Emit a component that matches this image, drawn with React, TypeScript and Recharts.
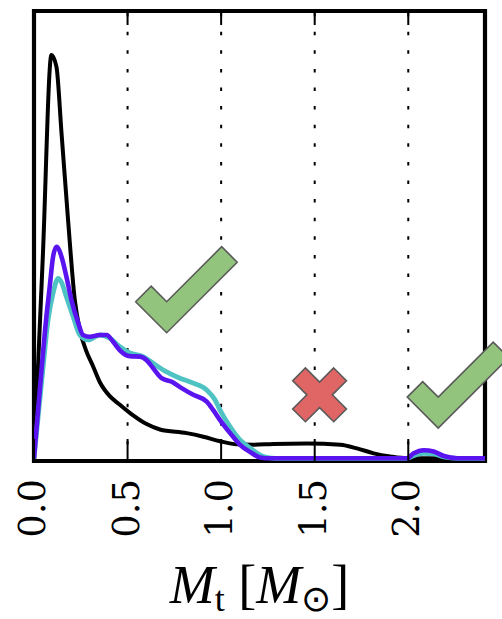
import React from "react";
import {
  LineChart,
  Line,
  XAxis,
  YAxis,
  CartesianGrid,
  ReferenceArea,
  ReferenceDot,
} from "recharts";

// values (x in M_sun, y as fraction of panel height)
const blackX = [0, 0.047, 0.093, 0.12, 0.147, 0.182, 0.218, 0.245, 0.277, 0.316, 0.352, 0.405, 0.459, 0.528, 0.602, 0.673, 0.816, 0.905, 0.994, 1.084, 1.172, 1.279, 1.458, 1.637, 1.726, 1.815, 1.904, 1.993, 2.41];
const blackY = [0, 0.447, 0.896, 0.87, 0.723, 0.53, 0.352, 0.285, 0.241, 0.204, 0.169, 0.138, 0.119, 0.096, 0.076, 0.064, 0.056, 0.048, 0.038, 0.031, 0.03, 0.032, 0.033, 0.03, 0.022, 0.011, 0.004, 0, 0];

const purpleX = [0, 0.04, 0.066, 0.084, 0.102, 0.12, 0.147, 0.173, 0.2, 0.236, 0.262, 0.298, 0.352, 0.388, 0.423, 0.459, 0.512, 0.566, 0.602, 0.637, 0.682, 0.736, 0.789, 0.851, 0.923, 0.958, 0.994, 1.048, 1.101, 1.155, 1.208, 1.261, 1.958, 1.993, 2.029, 2.082, 2.136, 2.19, 2.261, 2.41];
const purpleY = [0, 0.196, 0.314, 0.381, 0.448, 0.47, 0.448, 0.404, 0.352, 0.301, 0.274, 0.27, 0.274, 0.274, 0.259, 0.24, 0.227, 0.226, 0.218, 0.2, 0.178, 0.17, 0.156, 0.141, 0.126, 0.107, 0.085, 0.056, 0.03, 0.014, 0.002, 0, 0, 0, 0.011, 0.018, 0.015, 0.005, 0, 0];

const cyanX = [0, 0.047, 0.075, 0.102, 0.129, 0.148, 0.173, 0.209, 0.245, 0.289, 0.352, 0.405, 0.459, 0.512, 0.584, 0.637, 0.709, 0.78, 0.851, 0.923, 0.967, 0.994, 1.048, 1.101, 1.155, 1.226, 1.289, 1.993, 2.029, 2.082, 2.136, 2.19, 2.261, 2.41];
const cyanY = [0, 0.196, 0.307, 0.367, 0.4, 0.39, 0.359, 0.315, 0.274, 0.263, 0.274, 0.267, 0.248, 0.234, 0.226, 0.211, 0.192, 0.178, 0.167, 0.152, 0.13, 0.107, 0.07, 0.041, 0.023, 0.004, 0, 0, 0.006, 0.011, 0.01, 0.003, 0, 0];

const xTicks = [0, 0.5, 1.0, 1.5, 2.0];
const tickLabels = ["0.0", "0.5", "1.0", "1.5", "2.0"];

// annotation marks: [x, y, kind]
const marks: Array<[number, number, "check" | "cross"]> = [
  [0.709, 0.348, "check"],
  [1.526, 0.141, "cross"],
  [2.16, 0.136, "check"],
];

const X_MAX = 2.41;
const Y_MIN = -0.006;
const Y_MAX = 0.994;

const W = 502;
const H = 619;
const MARGIN = { top: 11, right: 17, bottom: 98, left: 34 };
const AXIS_H = 60;
const PLOT_H = H - MARGIN.top - MARGIN.bottom - AXIS_H;

const toPoints = (xs: number[], ys: number[]) => xs.map((x, i) => ({ x, y: ys[i] }));

const blackData = toPoints(blackX, blackY);
const purpleData = toPoints(purpleX, purpleY);
const cyanData = toPoints(cyanX, cyanY);

const CheckMark = ({ cx, cy }: any) => {
  const pts = [
    [-31, 0],
    [-15.5, -15.5],
    [0, 0],
    [55, -55],
    [70.5, -39.5],
    [0, 31],
  ];
  return (
    <polygon
      points={pts.map(([px, py]) => `${cx + px},${cy + py}`).join(" ")}
      fill="#93c47d"
      stroke="#5a5a5a"
      strokeWidth={1.6}
      strokeLinejoin="miter"
    />
  );
};

const CrossMark = ({ cx, cy }: any) => {
  const a = 9;
  const L = 29;
  const plus = [
    [-a, -L], [a, -L], [a, -a], [L, -a], [L, a], [a, a],
    [a, L], [-a, L], [-a, a], [-L, a], [-L, -a], [-a, -a],
  ];
  const s = Math.SQRT1_2;
  const pts = plus.map(([px, py]) => [(px - py) * s, (px + py) * s]);
  return (
    <polygon
      points={pts.map(([px, py]) => `${cx + px},${cy + py}`).join(" ")}
      fill="#e06666"
      stroke="#5a5a5a"
      strokeWidth={1.6}
    />
  );
};

const BottomTick = (props: any) => {
  const { x, y, index } = props;
  return (
    <g>
      <line x1={x} y1={y} x2={x} y2={y - 22} stroke="#000" strokeWidth={2} />
      <line x1={x} y1={y - PLOT_H} x2={x} y2={y - PLOT_H + 14} stroke="#000" strokeWidth={2} />
      <text
        transform={`translate(${x - 1.5},${y + 18}) rotate(-90)`}
        textAnchor="end"
        dominantBaseline="central"
        fontFamily="'DejaVu Serif', serif"
        fontSize={37}
        fill="#000"
      >
        {tickLabels[index]}
      </text>
    </g>
  );
};

const XLabel = (props: any) => {
  const vb = props.viewBox || {};
  const cx = (vb.x ?? 0) + (vb.width ?? 0) / 2;
  const baseY = (vb.y ?? 0) + 142;
  return (
    <text
      x={cx}
      y={baseY}
      textAnchor="middle"
      fontFamily="'Liberation Serif', serif"
      fontSize={54}
      fill="#000"
    >
      <tspan fontStyle="italic">M</tspan>
      <tspan fontSize={36} dy={8}>t</tspan>
      <tspan dy={-8}>{" ["}</tspan>
      <tspan fontStyle="italic">M</tspan>
      <tspan fontSize={36} dy={8}>⊙</tspan>
      <tspan dy={-8}>]</tspan>
    </text>
  );
};

export default function App() {
  return (
    <div style={{ width: W, height: H, background: "#fff" }}>
      <style>{"body{margin:0;background:#fff}"}</style>
      <LineChart width={W} height={H} margin={MARGIN}>
        <CartesianGrid
          vertical={true}
          horizontal={false}
          stroke="#000"
          strokeWidth={2}
          strokeDasharray="3.5 15.1"
          strokeDashoffset={16.5}
        />
        <XAxis
          dataKey="x"
          type="number"
          domain={[0, X_MAX]}
          ticks={xTicks}
          height={AXIS_H}
          axisLine={false}
          tickLine={false}
          tickSize={0}
          tickMargin={0}
          tick={<BottomTick />}
          label={{ content: <XLabel /> }}
          allowDataOverflow
        />
        <YAxis type="number" domain={[Y_MIN, Y_MAX]} hide allowDataOverflow />
        <Line
          data={blackData}
          dataKey="y"
          type="monotone"
          stroke="#000"
          strokeWidth={4}
          dot={false}
          isAnimationActive={false}
        />
        <Line
          data={cyanData}
          dataKey="y"
          type="monotone"
          stroke="#4fc3c3"
          strokeWidth={4.8}
          dot={false}
          isAnimationActive={false}
        />
        <Line
          data={purpleData}
          dataKey="y"
          type="monotone"
          stroke="#5a14f0"
          strokeWidth={4.6}
          dot={false}
          isAnimationActive={false}
        />
        {marks.map(([mx, my, kind], i) => (
          <ReferenceDot
            key={i}
            x={mx}
            y={my}
            r={1}
            ifOverflow="visible"
            shape={(p: any) =>
              kind === "check" ? <CheckMark cx={p.cx} cy={p.cy} /> : <CrossMark cx={p.cx} cy={p.cy} />
            }
          />
        ))}
        <ReferenceArea
          x1={0}
          x2={X_MAX}
          y1={Y_MIN}
          y2={Y_MAX}
          fill="none"
          fillOpacity={0}
          stroke="#000"
          strokeWidth={4.2}
          ifOverflow="visible"
        />
      </LineChart>
    </div>
  );
}
